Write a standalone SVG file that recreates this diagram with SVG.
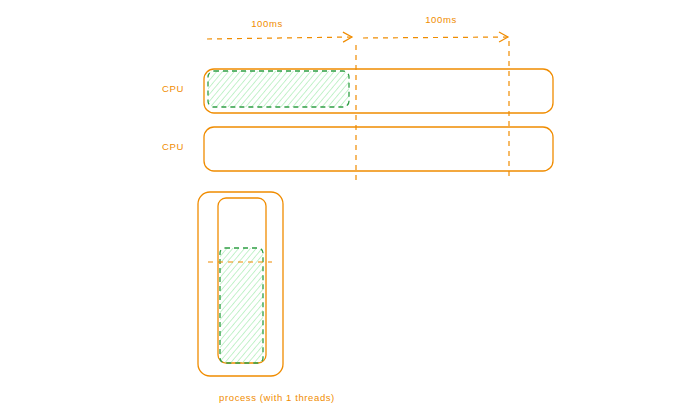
<svg xmlns="http://www.w3.org/2000/svg" width="700" height="416" viewBox="0 0 700 416">
<style>
.o{fill:none;stroke:#f08c00;stroke-width:1.3}
.od{fill:none;stroke:#f08c00;stroke-width:1.2;stroke-dasharray:5 5}
.g{fill:url(#hatch);stroke:#2f9e44;stroke-width:1.3;stroke-dasharray:5 4}
.t{font-family:"Liberation Sans",Arial,sans-serif;font-size:9.5px;letter-spacing:0.6px;fill:#f08c00}
</style>
<defs>
<pattern id="hatch" width="4.5" height="4.5" patternUnits="userSpaceOnUse" patternTransform="rotate(40)">
<line x1="0" y1="0" x2="0" y2="4.5" stroke="#a6ecb1" stroke-width="1.3"/>
</pattern>
<marker id="chev" markerWidth="12" markerHeight="12" refX="10" refY="6" orient="auto" markerUnits="userSpaceOnUse">
<path d="M1,1 L10,6 L1,11" fill="none" stroke="#f08c00" stroke-width="1.2"/>
</marker>
</defs>
<rect width="700" height="416" fill="#ffffff"/>
<g id="cpu1">
<rect class="o" x="204" y="69" width="349" height="44" rx="10"/>
<text class="t" x="173" y="92" text-anchor="middle">CPU</text>
</g>
<g id="task1">
<rect class="g" x="208" y="71" width="141" height="36" rx="6"/>
</g>
<g id="cpu2">
<rect class="o" x="204" y="127" width="349" height="44" rx="10"/>
<text class="t" x="173" y="150" text-anchor="middle">CPU</text>
</g>
<g id="process">
<rect class="o" x="198" y="192" width="85" height="184" rx="12"/>
<rect class="o" x="218" y="198" width="48" height="165" rx="8"/>
<rect class="g" x="220" y="248" width="43" height="115" rx="5"/>
<text class="t" x="277" y="401" text-anchor="middle">process (with 1 threads)</text>
</g>
<g id="labels">
<text class="t" x="267" y="27" text-anchor="middle">100ms</text>
<text class="t" x="441" y="23" text-anchor="middle">100ms</text>
</g>
<g id="connectors">
<path class="od" d="M207,39 L352,37" marker-end="url(#chev)"/>
<path class="od" d="M363,38 L508,37" marker-end="url(#chev)"/>
<path class="od" d="M356,45 L356,184"/>
<path class="od" d="M509,41 L509,180"/>
<path class="od" d="M208,262 L272,262"/>
</g>
</svg>
